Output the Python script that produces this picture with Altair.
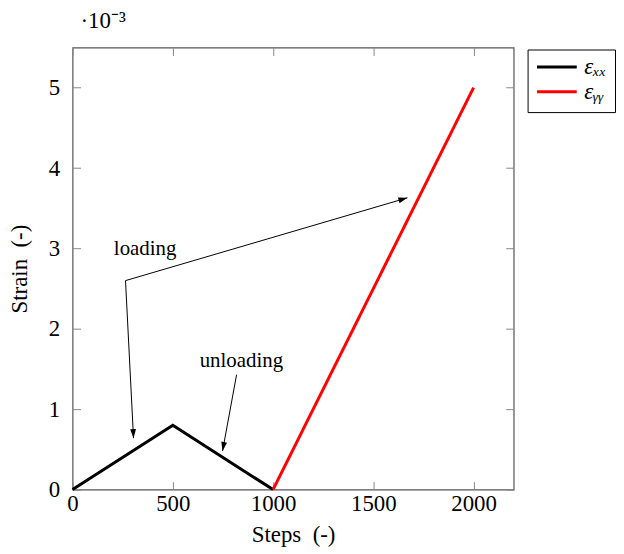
import math
import altair as alt
import pandas as pd

# ---- data ----
xx_steps = [0, 500, 1000]
xx_strain = [0.0, 0.0008, 0.0]
yy_steps = [1000, 2000]
yy_strain = [0.0, 0.005]
series_names = ["εₓₓ", "εᵧᵧ"]
series_colors = ["black", "red"]

x_ticks = [0, 500, 1000, 1500, 2000]
y_ticks = [0.0, 0.001, 0.002, 0.003, 0.004, 0.005]

# annotation arrows (start x, start y, tip x, tip y)
arrow_x0 = [264, 264, 818]
arrow_y0 = [0.00260, 0.00260, 0.00143]
arrow_x1 = [304, 1670, 748]
arrow_y1 = [0.00064, 0.00363, 0.00048]

label_text = ["loading", "unloading"]
label_x = [362, 842]
label_y = [0.00299, 0.00160]

X_DOMAIN = [0, 2200]
Y_DOMAIN = [0, 0.0055]
W, H = 444, 445

FONT = "Liberation Serif"
FS = 23
NB = "\u00a0"

rows = []
for s, v in zip(xx_steps, xx_strain):
    rows.append({"step": s, "strain": v, "series": series_names[0]})
for s, v in zip(yy_steps, yy_strain):
    rows.append({"step": s, "strain": v, "series": series_names[1]})
lines_df = pd.DataFrame(rows)

arr_rows = []
for a, b, c, d in zip(arrow_x0, arrow_y0, arrow_x1, arrow_y1):
    dx = (c - a) * W / (X_DOMAIN[1] - X_DOMAIN[0])
    dys = -(d - b) * H / (Y_DOMAIN[1] - Y_DOMAIN[0])
    ang = math.degrees(math.atan2(dx, -dys)) % 360
    arr_rows.append({"x0": a, "y0": b, "x1": c, "y1": d, "ang": ang})
arr_df = pd.DataFrame(arr_rows)

lab_df = pd.DataFrame({"t": label_text, "x": label_x, "y": label_y})

xs = alt.Scale(domain=X_DOMAIN, nice=False, zero=False)
ys = alt.Scale(domain=Y_DOMAIN, nice=False, zero=False)

tick_style = dict(tickSize=8, offset=-8, domain=False, grid=False,
                  tickColor="#888888", tickWidth=1)

lines = alt.Chart(lines_df).mark_line(strokeWidth=3).encode(
    x=alt.X("step:Q", scale=xs,
            axis=alt.Axis(values=x_ticks, format="d", title="Steps" + NB + NB + "(-)",
                          labelPadding=3, labelFlush=False,
                          labelFont=FONT, labelFontSize=FS, labelColor="black",
                          titleFont=FONT, titleFontSize=FS, titleFontWeight="normal",
                          titleColor="black", titlePadding=8, **tick_style)),
    y=alt.Y("strain:Q", scale=ys,
            axis=alt.Axis(values=y_ticks, title="Strain" + NB + NB + "(-)",
                          labelExpr="round(datum.value*1000)", labelPadding=13,
                          labelFlush=False,
                          labelFont=FONT, labelFontSize=FS, labelColor="black",
                          titleFont=FONT, titleFontSize=FS, titleFontWeight="normal",
                          titleColor="black", titlePadding=17, **tick_style)),
    color=alt.Color("series:N",
                    scale=alt.Scale(domain=series_names, range=series_colors),
                    legend=alt.Legend(title=None, orient="none", legendX=458, legendY=2,
                                      symbolType="stroke", symbolSize=1600,
                                      symbolStrokeWidth=3, labelFont=FONT,
                                      labelFontSize=FS, labelFontStyle="italic",
                                      labelColor="black", strokeColor="black",
                                      fillColor="white", padding=8, rowPadding=1,
                                      clipHeight=19, labelOffset=6)),
    detail="series:N",
)

mirror = dict(labels=False, title=None, **tick_style)

rules = alt.Chart(arr_df).mark_rule(color="black", strokeWidth=1).encode(
    x=alt.X("x0:Q", scale=xs, axis=alt.Axis(orient="top", values=x_ticks, **mirror)),
    y=alt.Y("y0:Q", scale=ys, axis=alt.Axis(orient="right", values=y_ticks, **mirror)),
    x2="x1:Q",
    y2="y1:Q",
)

heads = alt.Chart(arr_df).mark_point(
    shape="M0,0L-0.45,1.4L0.45,1.4Z", filled=True, color="black", opacity=1, size=170
).encode(
    x=alt.X("x1:Q", scale=xs, axis=None),
    y=alt.Y("y1:Q", scale=ys, axis=None),
    angle=alt.Angle("ang:Q", scale=None),
)

labels = alt.Chart(lab_df).mark_text(font=FONT, fontSize=21, color="black").encode(
    x=alt.X("x:Q", scale=xs, axis=None),
    y=alt.Y("y:Q", scale=ys, axis=None),
    text="t:N",
)

chart = alt.layer(lines, rules, heads, labels).resolve_axis(
    x="independent", y="independent"
).properties(
    width=W, height=H, padding=0,
    title=alt.TitleParams("·10⁻³", anchor="start", frame="group", dx=8, offset=14,
                          font=FONT, fontSize=FS, fontWeight="normal", color="black"),
).configure_view(stroke="#555555", strokeWidth=1.2)

chart.save("out.html", embed_options={"renderer": "svg", "actions": False})
